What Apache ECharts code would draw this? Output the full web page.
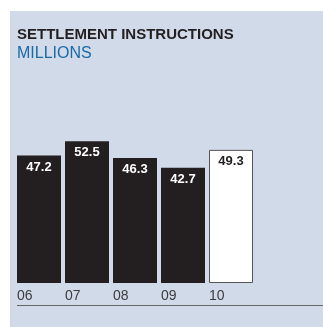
<!DOCTYPE html>
<html>
<head>
<meta charset="utf-8">
<script src="https://cdn.jsdelivr.net/npm/echarts@6/dist/echarts.min.js"></script>
<style>
html,body{margin:0;padding:0;background:#fff;}
#c{width:323px;height:327px;}
</style>
</head>
<body>
<div id="c"></div>
<script>
const categories = ['06', '07', '08', '09', '10'];
const values = [47.2, 52.5, 46.3, 42.7, 49.3];
const highlightIndex = 4;

const chart = echarts.init(document.getElementById('c'), null, {renderer: 'canvas'});
const data = values.map((v, i) => ({
  value: v,
  itemStyle: i === highlightIndex
    ? {color: '#ffffff', borderColor: '#555555', borderWidth: 1}
    : {color: '#231f20'},
  label: {color: i === highlightIndex ? '#231f20' : '#ffffff'}
}));

chart.setOption({
  animation: false,
  graphic: [
    {type: 'rect', shape: {x: 10, y: 11, width: 313, height: 316}, style: {fill: '#d1dae9'}, z: -10},
    {type: 'text', left: 17, top: 27, style: {text: 'SETTLEMENT INSTRUCTIONS', font: 'bold 15px "Liberation Sans", Arial, sans-serif', fill: '#231f20'}},
    {type: 'text', left: 17, top: 46, style: {text: 'MILLIONS', font: '16px "Liberation Sans", Arial, sans-serif', fill: '#1a69a6'}},
    {type: 'line', shape: {x1: 17, y1: 305.5, x2: 323, y2: 305.5}, style: {stroke: '#666666', lineWidth: 1}}
  ],
  grid: {left: 15, right: 68, top: 121, bottom: 44},
  xAxis: {
    type: 'category',
    data: categories,
    axisLine: {show: false},
    axisTick: {show: false},
    axisLabel: {
      margin: 6,
      formatter: v => '{a|' + v + '}',
      rich: {a: {width: 44, align: 'left', fontSize: 14, color: '#3d3d3d', fontFamily: '"Liberation Sans", Arial, sans-serif'}}
    }
  },
  yAxis: {type: 'value', min: 0, max: 60, show: false, splitLine: {show: false}},
  series: [{
    type: 'bar',
    data: data,
    barWidth: 44,
    label: {
      show: true,
      position: 'insideTop',
      distance: 5,
      fontSize: 13,
      fontWeight: 'bold',
      fontFamily: '"Liberation Sans", Arial, sans-serif',
      formatter: p => p.value.toFixed(1)
    }
  }]
});
</script>
</body>
</html>
